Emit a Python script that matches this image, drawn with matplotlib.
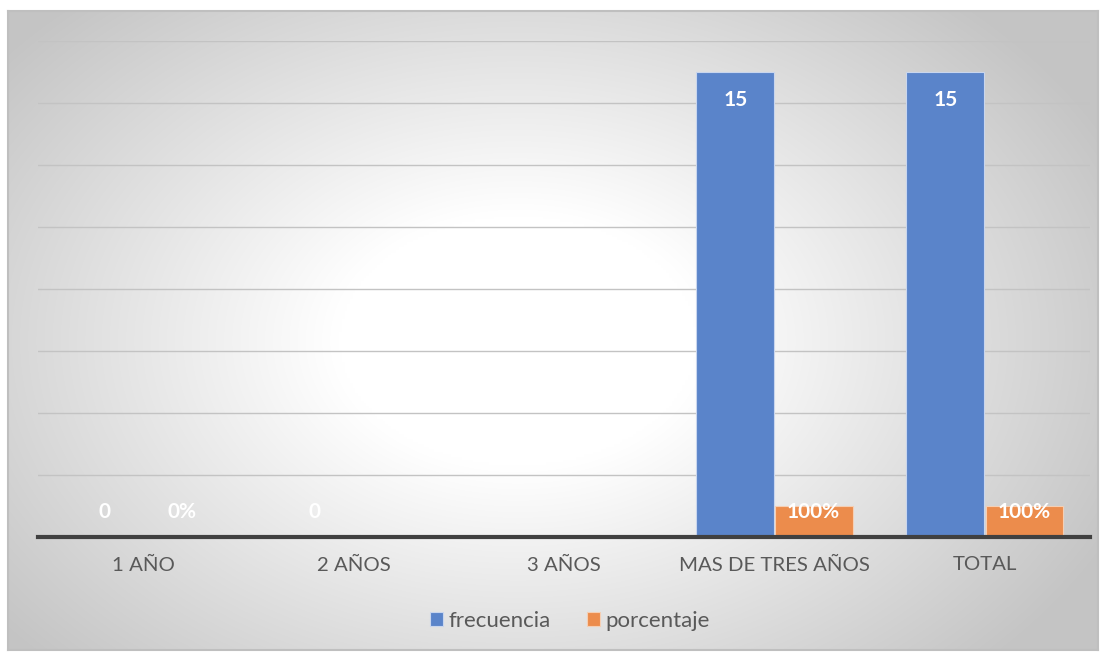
import numpy as np
import matplotlib.pyplot as plt

categories = ['1 AÑO', '2 AÑOS', '3 AÑOS', 'MAS DE TRES AÑOS', 'TOTAL']
frecuencia = [0, 0, np.nan, 15, 15]
porcentaje = [0, np.nan, np.nan, 1, 1]

plt.rcParams['font.family'] = ['Lato', 'DejaVu Sans']

W, H = 1106, 655
fig = plt.figure(figsize=(W / 100, H / 100), dpi=100)

# chart area background: radial gradient like the Excel one
bg = fig.add_axes([8 / W, 1 - 650 / H, 1090 / W, 639 / H], zorder=-2)
xx, yy = np.meshgrid(np.linspace(0, 1090, 400), np.linspace(0, 639, 250))
d = np.sqrt(((xx - 510) / 600) ** 2 + ((yy - 330) / 420) ** 2)
shade = 1 - 0.23 * np.clip(d - 0.3, 0, None) / 0.8
shade = np.clip(shade, 0.77, 1)
bg.imshow(np.dstack([shade] * 3), extent=(0, 1090, 639, 0), aspect='auto',
          interpolation='bilinear')
bg.set_xticks([])
bg.set_yticks([])
for s in bg.spines.values():
    s.set_color('#bfbfbf')
    s.set_linewidth(1.5)

ax = fig.add_axes([38 / W, 1 - 537 / H, (1090 - 38) / W, 496 / H])
ax.set_facecolor('none')
x = np.arange(len(categories))
w = 0.37

b1 = ax.bar(x - w / 2 - 0.004, frecuencia, w, color='#5a84ca',
            edgecolor='#c9d6ee', linewidth=0.8, label='frecuencia', zorder=3)
b2 = ax.bar(x + w / 2 + 0.004, porcentaje, w, color='#ec8c4c',
            edgecolor='#f5cfb4', linewidth=0.8, label='porcentaje', zorder=3)

for xi, v in zip(x, frecuencia):
    if not np.isnan(v):
        ax.text(xi - w / 2, max(v - 0.9, 0.8), f'{v:g}', ha='center', va='center',
                color='white', fontsize=15, fontweight='bold', zorder=4)
for xi, v in zip(x, porcentaje):
    if not np.isnan(v):
        ax.text(xi + w / 2, max(v - 0.9, 0.8), f'{v:.0%}', ha='center', va='center',
                color='white', fontsize=15, fontweight='bold', zorder=4)

ax.set_xlim(-0.5, len(categories) - 0.5)
ax.set_ylim(0, 16)
ax.set_yticks(np.arange(2, 17, 2))
ax.yaxis.grid(True, color='#c3c3c3', linewidth=1)
ax.set_axisbelow(True)
ax.tick_params(axis='y', left=False, labelleft=False)
ax.set_xticks(x)
ax.set_xticklabels(categories, fontsize=14.7, color='#595959')
ax.tick_params(axis='x', length=0, pad=14)
for s in ['top', 'right', 'left']:
    ax.spines[s].set_visible(False)
ax.spines['bottom'].set_color('#404040')
ax.spines['bottom'].set_linewidth(3)
ax.spines['bottom'].set_zorder(5)

leg = fig.legend(handles=[b1, b2], loc='center', bbox_to_anchor=(570 / W, 1 - 621 / H),
                 ncol=2, frameon=False, fontsize=16, handlelength=0.6, handleheight=0.6,
                 handletextpad=0.25, columnspacing=1.6)
for t in leg.get_texts():
    t.set_color('#595959')

fig.savefig('out.png', dpi=100)
